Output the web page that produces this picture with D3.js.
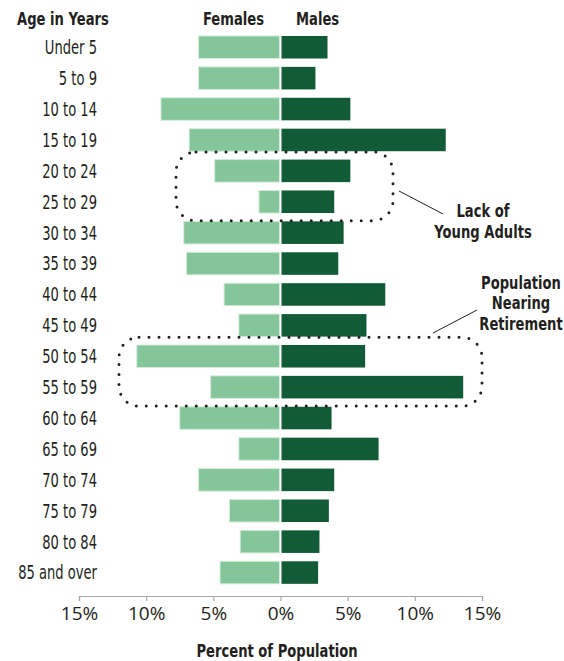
<!DOCTYPE html>
<html>
<head>
<meta charset="utf-8">
<script src="https://cdn.jsdelivr.net/npm/d3@7"></script>
<style>
  html, body { margin: 0; padding: 0; background: #fff; }
  svg { display: block; }
  .cond { font-family: "DejaVu Sans", sans-serif; }
</style>
</head>
<body>
<svg id="chart" width="564" height="661"></svg>
<script>
const categories = ["Under 5","5 to 9","10 to 14","15 to 19","20 to 24","25 to 29","30 to 34","35 to 39","40 to 44","45 to 49","50 to 54","55 to 59","60 to 64","65 to 69","70 to 74","75 to 79","80 to 84","85 and over"];
const females = [6.1, 6.1, 8.9, 6.8, 4.9, 1.6, 7.2, 7.0, 4.2, 3.1, 10.7, 5.2, 7.5, 3.1, 6.1, 3.8, 3.0, 4.5];
const males   = [3.5, 2.6, 5.2, 12.3, 5.2, 4.0, 4.7, 4.3, 7.8, 6.4, 6.3, 13.6, 3.8, 7.3, 4.0, 3.6, 2.9, 2.8];
const tickValues = [-15, -10, -5, 0, 5, 10, 15];
const tickLabels = ["15%","10%","5%","0%","5%","10%","15%"];
const highlightGroups = [["20 to 24","25 to 29"], ["50 to 54","55 to 59"]];

const svg = d3.select("#chart");
const textColor = "#231f20";
const femaleColor = "#85c59a";
const maleColor = "#125b37";

const x = d3.scaleLinear().domain([-15, 15]).range([79, 482]);
const y = d3.scaleBand().domain(categories).range([31.8, 31.8 + 18 * 30.9]).paddingInner(0.27).paddingOuter(0.135);

// bars
svg.append("g").selectAll("rect").data(categories).join("rect")
  .attr("x", (d, i) => x(-females[i]))
  .attr("y", d => y(d))
  .attr("width", (d, i) => x(0) - 1 - x(-females[i]))
  .attr("height", y.bandwidth())
  .attr("fill", femaleColor)
  .attr("stroke", "#d4ecdb").attr("stroke-width", 1);

svg.append("g").selectAll("rect").data(categories).join("rect")
  .attr("x", x(0) + 1)
  .attr("y", d => y(d))
  .attr("width", (d, i) => x(males[i]) - x(0) - 1)
  .attr("height", y.bandwidth())
  .attr("fill", maleColor);

// condensed text: a real text element squeezed horizontally around its anchor
function condText(tx, ty, anchor, str, opts) {
  const o = Object.assign({size: 18.5, bold: true, factor: 0.71, dy: null}, opts || {});
  const t = svg.append("text").attr("class", "cond")
    .attr("transform", `translate(${tx},${ty}) scale(${o.factor},1)`)
    .attr("text-anchor", anchor)
    .attr("font-size", o.size)
    .attr("font-weight", o.bold ? "bold" : "normal")
    .attr("fill", textColor)
    .text(str);
  if (o.dy) t.attr("dy", o.dy);
  return t;
}

// category labels
categories.forEach(c => {
  condText(97, y(c) + y.bandwidth() / 2, "end", c, {size: 19, bold: false, factor: 0.69, dy: "0.36em"});
});

// headers
condText(17, 25, "start", "Age in Years");
condText(264, 25, "end", "Females");
condText(296, 25, "start", "Males");

// axis
const axis = d3.axisBottom(x).tickValues(tickValues).tickSize(5).tickFormat((d, i) => tickLabels[i]);
const gx = svg.append("g").attr("transform", "translate(0,596)").call(axis);
gx.select(".domain").attr("stroke", "#a7a9ac").attr("stroke-width", 1.2);
gx.selectAll(".tick line").attr("stroke", "#a7a9ac").attr("stroke-width", 1.2).attr("y2", 5);
gx.selectAll(".tick text").attr("font-family", "'Open Sans', 'Noto Sans', sans-serif").attr("font-size", 19)
  .attr("fill", textColor).attr("y", 11).attr("dy", "0.71em");

condText(277, 657, "middle", "Percent of Population");

// dotted highlight boxes
const boxes = [
  {x0: 176, x1: 393, grp: highlightGroups[0]},
  {x0: 119, x1: 482, grp: highlightGroups[1]}
];
boxes.forEach(b => {
  const top = y(b.grp[0]) - 0.5 * y.step() * 0.27 - 3.5;
  const bot = y(b.grp[b.grp.length - 1]) + y.bandwidth() + 0.5 * y.step() * 0.27 + 3.5;
  svg.append("rect").attr("x", b.x0).attr("y", top).attr("width", b.x1 - b.x0).attr("height", bot - top)
    .attr("rx", 20).attr("ry", 20)
    .attr("fill", "none").attr("stroke", textColor).attr("stroke-width", 3)
    .attr("stroke-linecap", "round").attr("stroke-dasharray", "0 10");
});

// annotations
svg.append("line").attr("x1", 399).attr("y1", 191).attr("x2", 443).attr("y2", 214)
  .attr("stroke", textColor).attr("stroke-width", 1);
condText(483, 217, "middle", "Lack of");
condText(483, 238, "middle", "Young Adults");

svg.append("line").attr("x1", 433).attr("y1", 333).attr("x2", 477).attr("y2", 310)
  .attr("stroke", textColor).attr("stroke-width", 1);
condText(521, 289, "middle", "Population");
condText(521, 309, "middle", "Nearing");
condText(521, 330, "middle", "Retirement");
</script>
</body>
</html>
